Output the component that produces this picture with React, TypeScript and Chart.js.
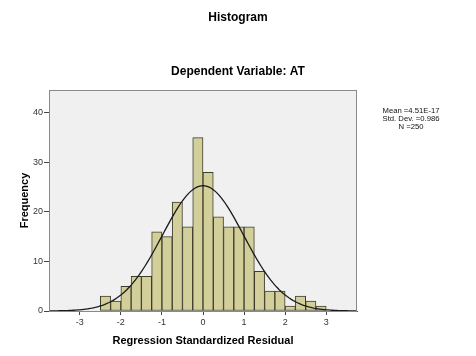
import React, { useEffect, useRef } from "react";
import { Chart, registerables } from "chart.js";

Chart.register(...registerables);

const BIN_STARTS = [-2.5, -2.25, -2, -1.75, -1.5, -1.25, -1, -0.75, -0.5, -0.25, 0, 0.25, 0.5, 0.75, 1, 1.25, 1.5, 1.75, 2, 2.25, 2.5, 2.75];
const BIN_WIDTH = 0.25;
const COUNTS = [3, 2, 5, 7, 7, 16, 15, 22, 17, 35, 28, 19, 17, 17, 17, 8, 4, 4, 1, 3, 2, 1];
const MEAN = 4.51e-17;
const STD_DEV = 0.986;
const N = 250;
const STATS_LINES = ["Mean =4.51E-17", "Std. Dev. =0.986", "N =250"];
const TITLE = "Histogram";
const SUBTITLE = "Dependent Variable: AT";
const X_TITLE = "Regression Standardized Residual";
const Y_TITLE = "Frequency";
const X_MIN = -3.75;
const X_MAX = 3.75;
const Y_MAX = 44.6;

const FONT = "'Liberation Sans', Arial, sans-serif";

function normalCurve() {
  const pts: { x: number; y: number }[] = [];
  const steps = 150;
  for (let i = 0; i <= steps; i++) {
    const x = X_MIN + ((X_MAX - X_MIN) * i) / steps;
    const z = (x - MEAN) / STD_DEV;
    const y = (N * BIN_WIDTH * Math.exp(-0.5 * z * z)) / (STD_DEV * Math.sqrt(2 * Math.PI));
    pts.push({ x, y });
  }
  return pts;
}

const framePlugin = {
  id: "frame",
  beforeDatasetsDraw(chart: any) {
    const { ctx, chartArea: a } = chart;
    ctx.save();
    ctx.fillStyle = "#f0f0f0";
    ctx.fillRect(a.left, a.top, a.right - a.left, a.bottom - a.top);
    ctx.restore();
  },
  afterDatasetsDraw(chart: any) {
    const { ctx, chartArea: a } = chart;
    ctx.save();
    ctx.strokeStyle = "#8a8a8a";
    ctx.lineWidth = 1;
    ctx.strokeRect(a.left + 0.5, a.top + 0.5, a.right - a.left - 1, a.bottom - a.top);
    ctx.restore();
  },
  afterDraw(chart: any) {
    const { ctx } = chart;
    ctx.save();
    ctx.fillStyle = "#000";
    ctx.textAlign = "center";
    ctx.textBaseline = "middle";
    ctx.font = `bold 12px ${FONT}`;
    ctx.fillText(TITLE, 238, 18);
    ctx.fillText(SUBTITLE, 238, 72);
    ctx.font = `7.7px ${FONT}`;
    ctx.fillStyle = "#111";
    STATS_LINES.forEach((t, i) => ctx.fillText(t, 411, 111 + i * 8));
    ctx.restore();
  },
};

export default function App() {
  const ref = useRef<HTMLCanvasElement>(null);
  useEffect(() => {
    if (!ref.current) return;
    const chart = new Chart(ref.current, {
      type: "bar",
      data: {
        datasets: [
          {
            type: "line",
            data: normalCurve(),
            borderColor: "#1a1a1a",
            borderWidth: 1.3,
            pointRadius: 0,
            fill: false,
            tension: 0,
            order: 0,
          } as any,
          {
            type: "bar",
            data: BIN_STARTS.map((s, i) => ({ x: s + BIN_WIDTH / 2, y: COUNTS[i] })),
            backgroundColor: "#d3cf9b",
            borderColor: "#3e3d2c",
            borderWidth: 1,
            borderSkipped: false,
            barPercentage: 1,
            categoryPercentage: 1,
            order: 1,
          } as any,
        ],
      },
      options: {
        responsive: false,
        animation: false,
        devicePixelRatio: 1,
        layout: { padding: { left: 0, right: 119, top: 90, bottom: 0 } },
        plugins: { legend: { display: false }, tooltip: { enabled: false }, title: { display: false } },
        scales: {
          x: {
            type: "linear",
            min: X_MIN,
            max: X_MAX,
            offset: false,
            afterFit: (s: any) => {
              s.height = 45;
            },
            ticks: {
              stepSize: 1,
              includeBounds: false,
              font: { family: FONT, size: 9 },
              color: "#333",
              padding: 2,
              maxRotation: 0,
            },
            grid: { offset: false, drawOnChartArea: false, drawTicks: true, tickLength: 4, color: "#444" },
            border: { display: true, color: "#555", width: 1 },
            title: {
              display: true,
              text: X_TITLE,
              font: { family: FONT, size: 11, weight: "bold" },
              color: "#000",
              padding: { top: 0, bottom: 8.5 },
            },
          },
          y: {
            type: "linear",
            min: 0,
            max: Y_MAX,
            afterFit: (s: any) => {
              s.width = 49;
            },
            ticks: {
              stepSize: 10,
              includeBounds: false,
              font: { family: FONT, size: 9 },
              color: "#333",
              padding: 1,
            },
            grid: { drawOnChartArea: false, drawTicks: true, tickLength: 5, color: "#444" },
            border: { display: true, color: "#555", width: 1 },
            title: {
              display: true,
              text: Y_TITLE,
              font: { family: FONT, size: 11, weight: "bold" },
              color: "#000",
              padding: { top: 18, bottom: 0 },
            },
          },
        },
      },
      plugins: [framePlugin],
    });
    return () => chart.destroy();
  }, []);
  return (
    <div style={{ position: "absolute", left: 0, top: 0, width: 476, height: 356, background: "#fff" }}>
      <canvas ref={ref} width={476} height={356} style={{ display: "block", width: 476, height: 356 }} />
    </div>
  );
}
